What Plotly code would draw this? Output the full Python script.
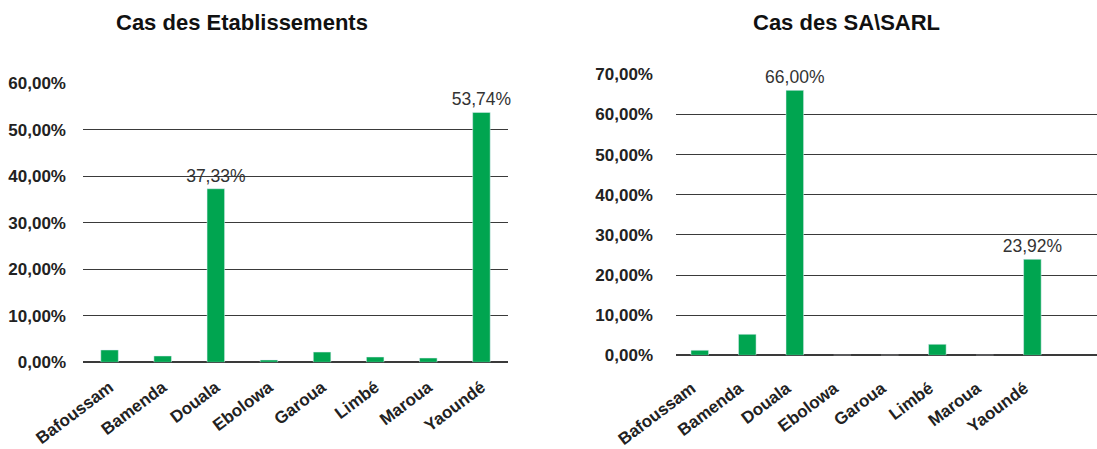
import plotly.graph_objects as go

categories = ["Bafoussam", "Bamenda", "Douala", "Ebolowa", "Garoua", "Limbé", "Maroua", "Yaoundé"]
etab_values = [2.65, 1.36, 37.33, 0.5, 2.2, 1.14, 0.92, 53.74]
sarl_values = [1.25, 5.23, 66.00, 0.0, 0.0, 2.74, 0.0, 23.92]
etab_labeled = ["Douala", "Yaoundé"]
sarl_labeled = ["Douala", "Yaoundé"]
etab_ticks = [0, 10, 20, 30, 40, 50, 60]
sarl_ticks = [0, 10, 20, 30, 40, 50, 60, 70]
titles = ["Cas des Etablissements", "Cas des SA\\SARL"]

GREEN = "#00A550"
FONT = "Liberation Sans, Arial, Helvetica, sans-serif"


def fmt(v):
    return f"{v:.2f}%".replace(".", ",")


def labels(vals, labeled):
    return [fmt(v) if c in labeled else "" for c, v in zip(categories, vals)]


fig = go.Figure()
fig.add_trace(go.Bar(x=categories, y=etab_values, marker_color=GREEN, width=0.33,
                     text=labels(etab_values, etab_labeled), textposition="outside",
                     constraintext="none",
                     textfont=dict(size=17.5, color="#333", family=FONT),
                     cliponaxis=False, xaxis="x", yaxis="y", showlegend=False))
fig.add_trace(go.Bar(x=categories, y=sarl_values, marker_color=GREEN, width=0.37,
                     text=labels(sarl_values, sarl_labeled), textposition="outside",
                     constraintext="none",
                     textfont=dict(size=17.5, color="#333", family=FONT),
                     cliponaxis=False, xaxis="x2", yaxis="y2", showlegend=False))

W, H = 1097, 449
ycommon = dict(showline=False, ticks="", automargin=False,
               tickfont=dict(size=17, color="#222", family=FONT, weight="bold"))
xcommon = dict(showline=False, ticks="", automargin=False, tickangle=-37,
               showgrid=False,
               tickfont=dict(size=17, color="#222", family=FONT, weight="bold"))

fig.update_layout(
    width=W, height=H,
    margin=dict(l=0, r=0, t=0, b=0),
    plot_bgcolor="white", paper_bgcolor="white",
    separators=", ",
    xaxis=dict(domain=[83 / W, 508 / W], range=[-0.5, 7.5], anchor="y",
               ticklabelstandoff=11, **xcommon),
    yaxis=dict(domain=[(H - 362.3) / H, (H - 83.3) / H], range=[0, 60], tickvals=etab_ticks,
               ticktext=[fmt(t) for t in etab_ticks], anchor="x",
               showgrid=True, gridcolor="#3a3a3a", gridwidth=1,
               zeroline=True, zerolinecolor="#3a3a3a", zerolinewidth=1.5,
               ticklabelstandoff=16, **ycommon),
    xaxis2=dict(domain=[676 / W, 1.0], range=[-0.5, 8.36], anchor="y2",
                ticklabelstandoff=19, ticklabelshift=-8, **xcommon),
    yaxis2=dict(domain=[(H - 355.3) / H, (H - 74.3) / H], range=[0, 70], tickvals=sarl_ticks,
                ticktext=[fmt(t) for t in sarl_ticks], anchor="x2",
                showgrid=True, gridcolor="#3a3a3a", gridwidth=1,
                zeroline=True, zerolinecolor="#3a3a3a", zerolinewidth=1.5,
                ticklabelstandoff=22, **ycommon),
    annotations=[
        dict(text=titles[0], x=242 / W, y=(H - 23) / H, xref="paper", yref="paper",
             xanchor="center", yanchor="middle",
             showarrow=False, font=dict(size=22, color="#111", family=FONT, weight="bold")),
        dict(text=titles[1], x=846 / W, y=(H - 23) / H, xref="paper", yref="paper",
             xanchor="center", yanchor="middle",
             showarrow=False, font=dict(size=22, color="#111", family=FONT, weight="bold")),
    ],
)

fig.write_html("out.html")
